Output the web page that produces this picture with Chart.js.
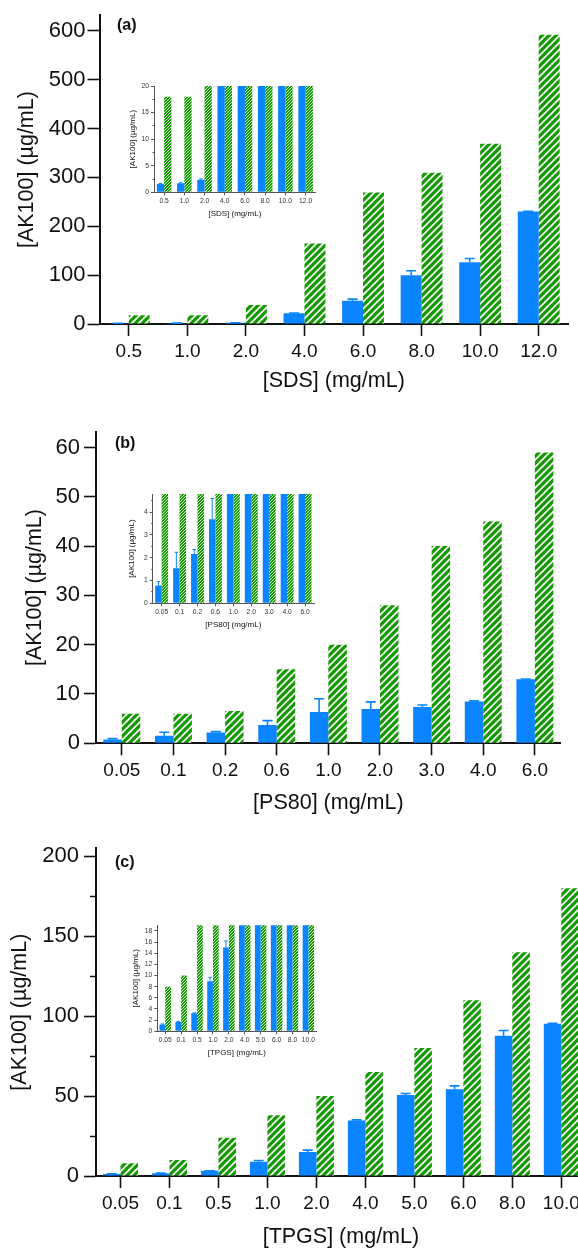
<!DOCTYPE html>
<html>
<head>
<meta charset="utf-8">
<script src="https://cdn.jsdelivr.net/npm/chart.js@4.4.1/dist/chart.umd.min.js"></script>
<style>
  html, body { margin: 0; padding: 0; background: #fff; }
  body { width: 578px; height: 1250px; position: relative; overflow: hidden; }
  canvas { position: absolute; }
  .tag { position: absolute; font: bold 16px "Liberation Sans", Arial, sans-serif; color: #111; line-height: 16px; }
</style>
</head>
<body>
<canvas id="mainA" width="578" height="396" style="left:0px;top:0px"></canvas>
<canvas id="insetA" width="205" height="145" style="left:120px;top:76px"></canvas>
<div class="tag" style="left:117px;top:17px">(a)</div>

<canvas id="mainB" width="578" height="420" style="left:0px;top:400px"></canvas>
<canvas id="insetB" width="205" height="148" style="left:120px;top:484px"></canvas>
<div class="tag" style="left:115px;top:435px">(b)</div>

<canvas id="mainC" width="600" height="420" style="left:0px;top:830px"></canvas>
<canvas id="insetC" width="205" height="145" style="left:120px;top:915px"></canvas>
<div class="tag" style="left:115px;top:854px">(c)</div>

<script>
// (a) SDS
const sdsLabels = ['0.5', '1.0', '2.0', '4.0', '6.0', '8.0', '10.0', '12.0'];
const sdsBlue = [1.56, 1.7, 2.37, 21.8, 47.6, 100, 126.5, 230];
const sdsBlueErr = [0.1, 0.1, 0.15, 0.6, 3.4, 9, 7.5, 0.5];
const sdsGreen = [18, 18, 38.8, 164.6, 269, 309.5, 369, 592];

// (b) PS80
const ps80Labels = ['0.05', '0.1', '0.2', '0.6', '1.0', '2.0', '3.0', '4.0', '6.0'];
const ps80Blue = [0.78, 1.54, 2.17, 3.69, 6.35, 6.95, 7.36, 8.5, 13.0];
const ps80BlueErr = [0.17, 0.7, 0.19, 0.91, 2.7, 1.45, 0.4, 0.1, 0.05];
const ps80Green = [6, 6, 6.55, 15, 20, 28, 40, 45, 59];

// (c) TPGS
const tpgsLabels = ['0.05', '0.1', '0.5', '1.0', '2.0', '4.0', '5.0', '6.0', '8.0', '10.0'];
const tpgsBlue = [1.2, 1.67, 3.23, 8.98, 15.0, 34.7, 50.7, 54.3, 87.7, 95.2];
const tpgsBlueErr = [0.12, 0.1, 0.08, 0.7, 1.2, 0.4, 0.9, 2.1, 3.3, 0.3];
const tpgsGreen = [8, 10, 24, 38, 50, 65, 80, 110, 140, 180];

const yTitle = '[AK100] (µg/mL)';
const FONT = '"Liberation Sans", Arial, sans-serif';
const BLUE = '#0a84ff';
const GREEN = '#139a00';

// striped fill for the green bars
function stripes(size, lw) {
    const c = document.createElement('canvas');
    c.width = size; c.height = size;
    const g = c.getContext('2d');
    g.fillStyle = GREEN;
    g.fillRect(0, 0, size, size);
    g.strokeStyle = '#fff';
    g.lineWidth = lw;
    g.beginPath();
    g.moveTo(0, size); g.lineTo(size, 0);
    g.moveTo(-size / 2, size / 2); g.lineTo(size / 2, -size / 2);
    g.moveTo(size / 2, size * 1.5); g.lineTo(size * 1.5, size / 2);
    g.stroke();
    return g.createPattern(c, 'repeat');
}
const mainStripes = stripes(7, 1.7);
const insetStripes = stripes(3, 0.8);

// upper error bars on the blue series
const errBars = {
    id: 'errBars',
    afterDatasetsDraw(chart, args, opts) {
        const meta = chart.getDatasetMeta(0);
        const y = chart.scales.y;
        const vals = chart.data.datasets[0].data;
        const a = chart.chartArea;
        const ctx = chart.ctx;
        ctx.save();
        ctx.beginPath();
        ctx.rect(a.left, a.top - 1, a.right - a.left, a.bottom - a.top + 1);
        ctx.clip();
        ctx.strokeStyle = BLUE;
        ctx.lineWidth = opts.width;
        meta.data.forEach((bar, i) => {
            const e = opts.err[i];
            if (!e) return;
            const yTop = y.getPixelForValue(vals[i] + e);
            const yBar = y.getPixelForValue(vals[i]);
            ctx.beginPath();
            ctx.moveTo(bar.x, yBar);
            ctx.lineTo(bar.x, yTop);
            ctx.moveTo(bar.x - opts.cap / 2, yTop);
            ctx.lineTo(bar.x + opts.cap / 2, yTop);
            ctx.stroke();
        });
        ctx.restore();
    }
};

function isMajor(v, major) {
    const r = Math.abs(v / major - Math.round(v / major));
    return r < 1e-6;
}

function barChart(id, labels, blue, green, err, o) {
    const small = o.inset;
    const axisColor = small ? '#555' : '#111';
    const tl = small ? 3 : 12;
    new Chart(document.getElementById(id), {
        type: 'bar',
        data: {
            labels: labels,
            datasets: [
                {
                    data: blue,
                    backgroundColor: BLUE,
                    borderWidth: 0,
                    categoryPercentage: o.catPct,
                    barPercentage: 1,
                    clip: 0
                },
                {
                    data: green,
                    backgroundColor: small ? insetStripes : mainStripes,
                    borderWidth: 0,
                    categoryPercentage: o.catPct,
                    barPercentage: 1,
                    clip: 0
                }
            ]
        },
        options: {
            responsive: false,
            animation: false,
            layout: { padding: { left: 0, top: o.padTop, right: o.padRight, bottom: 0 } },
            plugins: {
                legend: { display: false },
                tooltip: { enabled: false },
                errBars: { err: err, cap: small ? 3.5 : 10, width: small ? 1 : 1.6 }
            },
            scales: {
                x: {
                    offset: true,
                    border: { display: true, color: axisColor, width: small ? 1 : 2 },
                    grid: {
                        display: true, offset: false, drawOnChartArea: false,
                        tickLength: tl, tickWidth: small ? 1 : 1.6, tickColor: axisColor
                    },
                    ticks: {
                        autoSkip: false, maxRotation: 0, padding: o.xPad,
                        color: small ? '#333' : '#111',
                        font: { family: FONT, size: o.xFont }
                    },
                    title: {
                        display: true, text: o.xTitle, color: '#111',
                        font: { family: FONT, size: o.titleFont },
                        padding: { top: 0, bottom: o.xTitleBottom }
                    },
                    afterFit: s => { s.height = o.xHeight; }
                },
                y: {
                    min: 0,
                    max: o.yMax,
                    border: { display: true, color: axisColor, width: small ? 1 : 2 },
                    grid: {
                        display: true, drawOnChartArea: false,
                        tickLength: tl, tickWidth: small ? 1 : 1.6, tickColor: axisColor,
                        tickBorderDash: c => (c.tick && !isMajor(c.tick.value, o.major)) ? [0, tl / 2, tl / 2, 40] : []
                    },
                    ticks: {
                        stepSize: o.step, includeBounds: false, padding: o.yPad,
                        color: small ? '#333' : '#111',
                        font: { family: FONT, size: o.yFont },
                        callback: v => (isMajor(v, o.major) ? String(v) : '')
                    },
                    title: {
                        display: true, text: yTitle, color: '#111',
                        font: { family: FONT, size: o.titleFont },
                        padding: { top: o.yTitleTop, bottom: 0 }
                    },
                    afterFit: s => { s.width = o.yWidth; }
                }
            }
        },
        plugins: [errBars]
    });
}

const mainOpts = { inset: false, catPct: 0.715, xFont: 19, yFont: 22, titleFont: 21.5, xPad: 4 };
const insetOpts = { inset: true, catPct: 0.72, xFont: 6.7, yFont: 6.7, titleFont: 8, xPad: 2, yPad: 2 };

barChart('mainA', sdsLabels, sdsBlue, sdsGreen, sdsBlueErr, Object.assign({}, mainOpts, {
    xTitle: '[SDS] (mg/mL)', yMax: 632, step: 50, major: 100,
    yWidth: 99.5, padTop: 14, padRight: 10, xHeight: 72, yPad: 2, yTitleTop: 14, xTitleBottom: 2
}));
barChart('insetA', sdsLabels, sdsBlue, sdsGreen, sdsBlueErr, Object.assign({}, insetOpts, {
    xTitle: '[SDS] (mg/mL)', yMax: 20, step: 2.5, major: 5,
    yWidth: 34, padTop: 10, padRight: 9.3, xHeight: 28.7, yTitleTop: 8.2, xTitleBottom: 2.9
}));

barChart('mainB', ps80Labels, ps80Blue, ps80Green, ps80BlueErr, Object.assign({}, mainOpts, {
    xTitle: '[PS80] (mg/mL)', yMax: 63.2, step: 5, major: 10,
    yWidth: 96, padTop: 31.7, padRight: 17.3, xHeight: 76.7, yPad: 4, yTitleTop: 22.5, xTitleBottom: 3.8
}));
barChart('insetB', ps80Labels, ps80Blue, ps80Green, ps80BlueErr, Object.assign({}, insetOpts, {
    xTitle: '[PS80] (mg/mL)', yMax: 4.8, step: 0.5, major: 1,
    yWidth: 32.7, padTop: 10, padRight: 11, xHeight: 28.7, yTitleTop: 6.9, xTitleBottom: 2.9
}));

barChart('mainC', tpgsLabels, tpgsBlue, tpgsGreen, tpgsBlueErr, Object.assign({}, mainOpts, {
    xTitle: '[TPGS] (mg/mL)', yMax: 205, step: 25, major: 50,
    yWidth: 96, padTop: 18.3, padRight: 14.2, xHeight: 74, yPad: 5, yTitleTop: 7.5, xTitleBottom: 0
}));
barChart('insetC', tpgsLabels, tpgsBlue, tpgsGreen, tpgsBlueErr, Object.assign({}, insetOpts, {
    xTitle: '[TPGS] (mg/mL)', yMax: 19, step: 2, major: 2,
    yWidth: 37.3, padTop: 10.3, padRight: 8.7, xHeight: 28.7, yTitleTop: 11.2, xTitleBottom: 2.9
}));
</script>
</body>
</html>
